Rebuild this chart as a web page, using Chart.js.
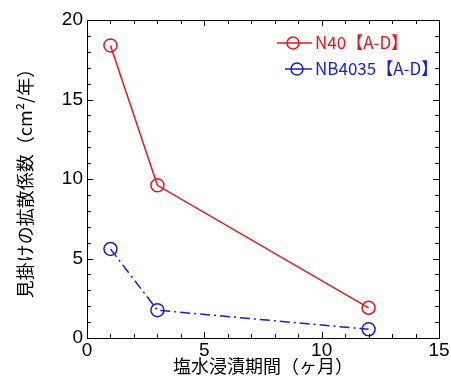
<!DOCTYPE html>
<html>
<head>
<meta charset="utf-8">
<script src="https://cdn.jsdelivr.net/npm/chart.js@4.4.1/dist/chart.umd.min.js"></script>
<style>
  html, body { margin: 0; padding: 0; background: #fff; }
  #wrap { width: 451px; height: 381px; position: relative; }
</style>
</head>
<body>
<div id="wrap"><canvas id="c" width="451" height="381"></canvas></div>
<script>
// Immersion period (months) and apparent diffusion coefficient (cm²/year)
const months = [1, 3, 12];
const n40 = [18.4, 9.6, 1.9];
const nb4035 = [5.6, 1.75, 0.55];
const seriesNames = ['N40【A-D】', 'NB4035【A-D】'];
const xTicks = [0, 5, 10, 15];
const yTicks = [0, 5, 10, 15, 20];

const jpFont = '"Noto Sans CJK JP", "Noto Sans", sans-serif';
const numFont = '"Liberation Sans", Arial, sans-serif';

// Frame plus inward major/minor ticks on all four sides
const frameTicks = {
  id: 'frameTicks',
  afterDraw(chart) {
    const { ctx, chartArea: a, scales: { x, y } } = chart;
    ctx.save();
    ctx.strokeStyle = '#000';
    ctx.lineWidth = 1;
    ctx.strokeRect(Math.round(a.left) + 0.5, Math.round(a.top) + 0.5,
                   Math.round(a.right - a.left), Math.round(a.bottom - a.top));
    ctx.beginPath();
    for (let v = x.min; v <= x.max; v++) {
      const px = Math.round(x.getPixelForValue(v)) + 0.5;
      const len = v % 5 === 0 ? 6 : 4;
      ctx.moveTo(px, a.bottom); ctx.lineTo(px, a.bottom - len);
      ctx.moveTo(px, a.top); ctx.lineTo(px, a.top + len);
    }
    for (let v = y.min; v <= y.max; v++) {
      const py = Math.round(y.getPixelForValue(v)) + 0.5;
      const len = v % 5 === 0 ? 6 : 4;
      ctx.moveTo(a.left, py); ctx.lineTo(a.left + len, py);
      ctx.moveTo(a.right, py); ctx.lineTo(a.right - len, py);
    }
    ctx.stroke();
    ctx.restore();
  }
};

// Legend drawn inside the plot area with line + circle samples
const innerLegend = {
  id: 'innerLegend',
  afterDraw(chart) {
    const { ctx } = chart;
    const rows = [
      { x0: 277, x1: 312, cx: 293, y: 43, ds: chart.data.datasets[0] },
      { x0: 285, x1: 312, cx: 297, y: 69, ds: chart.data.datasets[1] }
    ];
    ctx.save();
    rows.forEach(r => {
      ctx.strokeStyle = r.ds.borderColor;
      ctx.lineWidth = 1.5;
      ctx.setLineDash([]);
      ctx.beginPath();
      ctx.moveTo(r.x0, r.y); ctx.lineTo(r.x1, r.y);
      ctx.stroke();
      ctx.beginPath();
      ctx.arc(r.cx, r.y, 6, 0, Math.PI * 2);
      ctx.stroke();
      ctx.fillStyle = r.ds.borderColor;
      ctx.font = '17px ' + jpFont;
      ctx.textBaseline = 'middle';
      ctx.textAlign = 'left';
      ctx.fillText(r.ds.label, 315, r.y);
    });
    ctx.restore();
  }
};

new Chart(document.getElementById('c'), {
  type: 'line',
  data: {
    datasets: [
      {
        label: seriesNames[0],
        data: months.map((m, i) => ({ x: m, y: n40[i] })),
        borderColor: '#e8141c',
        backgroundColor: 'rgba(0,0,0,0)',
        borderWidth: 1.5,
        pointRadius: 6.5,
        pointBorderWidth: 1.5,
        pointBackgroundColor: 'rgba(0,0,0,0)',
        pointBorderColor: '#e8141c',
        tension: 0
      },
      {
        label: seriesNames[1],
        data: months.map((m, i) => ({ x: m, y: nb4035[i] })),
        borderColor: '#1a1adc',
        backgroundColor: 'rgba(0,0,0,0)',
        borderWidth: 1.5,
        borderDash: [10, 4, 2, 4],
        pointRadius: 6.5,
        pointBorderWidth: 1.5,
        pointBackgroundColor: 'rgba(0,0,0,0)',
        pointBorderColor: '#1a1adc',
        tension: 0
      }
    ]
  },
  options: {
    responsive: false,
    animation: false,
    layout: { padding: { top: 20, right: 12, left: 0, bottom: 0 } },
    plugins: { legend: { display: false }, tooltip: { enabled: false } },
    scales: {
      x: {
        type: 'linear',
        min: 0, max: 15,
        afterBuildTicks: s => { s.ticks = xTicks.map(v => ({ value: v })); },
        afterFit: s => { s.height = 43; },
        grid: { display: false, drawTicks: false },
        border: { display: false },
        ticks: { color: '#000', font: { family: numFont, size: 19 }, padding: 1, maxRotation: 0 },
        title: {
          display: true, text: '塩水浸漬期間（ヶ月）', color: '#000',
          font: { family: jpFont, size: 18 }, padding: { top: 0, bottom: 4 }
        }
      },
      y: {
        type: 'linear',
        min: 0, max: 20,
        afterBuildTicks: s => { s.ticks = yTicks.map(v => ({ value: v })); },
        afterFit: s => { s.width = 87; },
        grid: { display: false, drawTicks: false },
        border: { display: false },
        ticks: { color: '#000', font: { family: numFont, size: 19 }, padding: 4 },
        title: {
          display: true, text: '見掛けの拡散係数（cm²/年）', color: '#000',
          font: { family: jpFont, size: 18 }, padding: { top: 14, bottom: 0 }
        }
      }
    }
  },
  plugins: [frameTicks, innerLegend]
});
</script>
</body>
</html>
